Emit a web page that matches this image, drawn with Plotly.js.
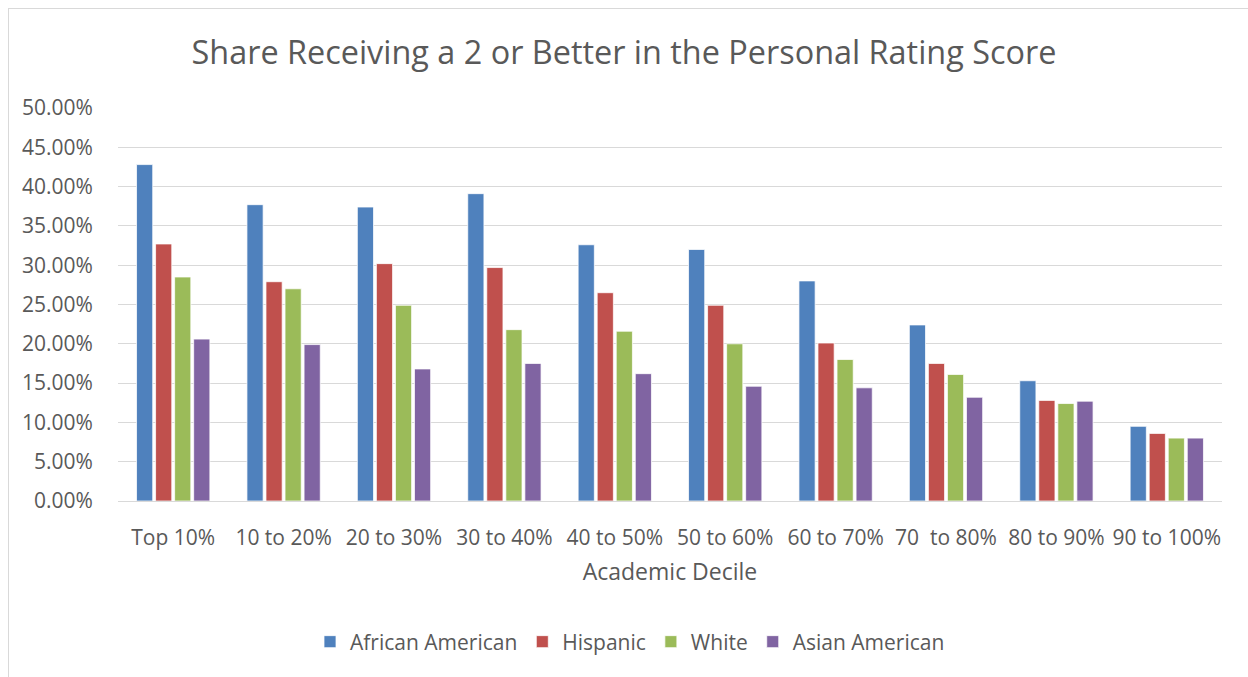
<!DOCTYPE html>
<html><head><meta charset="utf-8">
<script src="https://cdn.plot.ly/plotly-3.0.1.min.js"></script>
<style>html,body{margin:0;padding:0;background:#fff;}#chart{width:1248px;height:677px;}</style>
</head><body><div id="chart"></div>
<script>
const categories = ["Top 10%", "10 to 20%", "20 to 30%", "30 to 40%", "40 to 50%", "50 to 60%", "60 to 70%", "70  to 80%", "80 to 90%", "90 to 100%"];
const africanAmerican = [42.8, 37.7, 37.4, 39.1, 32.6, 32.0, 28.0, 22.4, 15.3, 9.5];
const hispanic = [32.7, 27.9, 30.2, 29.7, 26.5, 24.9, 20.1, 17.5, 12.8, 8.6];
const white = [28.5, 27.0, 24.9, 21.8, 21.6, 20.0, 18.0, 16.1, 12.4, 8.0];
const asianAmerican = [20.6, 19.9, 16.8, 17.5, 16.2, 14.6, 14.4, 13.2, 12.7, 8.0];
const seriesNames = ["African American", "Hispanic", "White", "Asian American"];
const seriesColors = ["#4F81BD", "#C0504D", "#9BBB59", "#8064A2"];
const seriesValues = [africanAmerican, hispanic, white, asianAmerican];

const font = "Open Sans, sans-serif";
const grey = "#595959";

const traces = seriesValues.map((vals, i) => ({
  type: "bar",
  name: seriesNames[i],
  x: categories,
  y: vals,
  marker: {color: seriesColors[i], line: {color: "#ffffff", width: 0.75}},
  hoverinfo: "x+y+name"
}));

const W = 1248, H = 677;
const ml = 118, mr = 26, mt = 108, mb = 176;
const pw = W - ml - mr, ph = H - mt - mb;
const px = x => (x - ml) / pw;
const py = y => (H - mb - y) / ph;

const layout = {
  width: W, height: H,
  margin: {l: ml, r: mr, t: mt, b: mb, pad: 0},
  paper_bgcolor: "#ffffff",
  plot_bgcolor: "#ffffff",
  font: {family: font, color: grey},
  title: {
    text: "Share Receiving a 2 or Better in the Personal Rating Score",
    font: {family: font, size: 32.4, color: grey},
    x: 0.5, xanchor: "center", xref: "container",
    y: 1 - 53 / H, yanchor: "middle", yref: "container"
  },
  barmode: "group",
  bargap: 0.31,
  bargroupgap: 0.15,
  xaxis: {
    type: "category",
    tickfont: {family: font, size: 21, color: grey},
    tickangle: 0,
    ticks: "outside", ticklen: 18, tickcolor: "rgba(0,0,0,0)",
    showline: false, showgrid: false, zeroline: false,
    title: {text: "Academic Decile", font: {family: font, size: 23, color: grey}, standoff: 13}
  },
  yaxis: {
    range: [0, 50],
    dtick: 5,
    tickformat: ".2f",
    ticksuffix: "%",
    tickfont: {family: font, size: 21, color: grey},
    ticks: "outside", ticklen: 20, tickcolor: "rgba(0,0,0,0)",
    showgrid: true, gridcolor: "#d9d9d9", gridwidth: 1,
    zeroline: true, zerolinecolor: "#d9d9d9", zerolinewidth: 1,
    showline: false,
    fixedrange: true
  },
  legend: {
    orientation: "h",
    x: px(630), xanchor: "center",
    y: py(642), yanchor: "middle",
    font: {family: font, size: 21, color: grey},
    itemwidth: 30,
    traceorder: "normal"
  },
  shapes: [
    {type: "line", xref: "paper", yref: "paper", x0: px(8.5), x1: px(8.5), y0: py(8), y1: py(677), line: {color: "#d9d9d9", width: 1}},
    {type: "line", xref: "paper", yref: "paper", x0: px(8), x1: px(1248), y0: py(8.5), y1: py(8.5), line: {color: "#d9d9d9", width: 1}}
  ],
  showlegend: true
};

Plotly.newPlot("chart", traces, layout, {displayModeBar: false, responsive: false});
</script>
</body></html>
